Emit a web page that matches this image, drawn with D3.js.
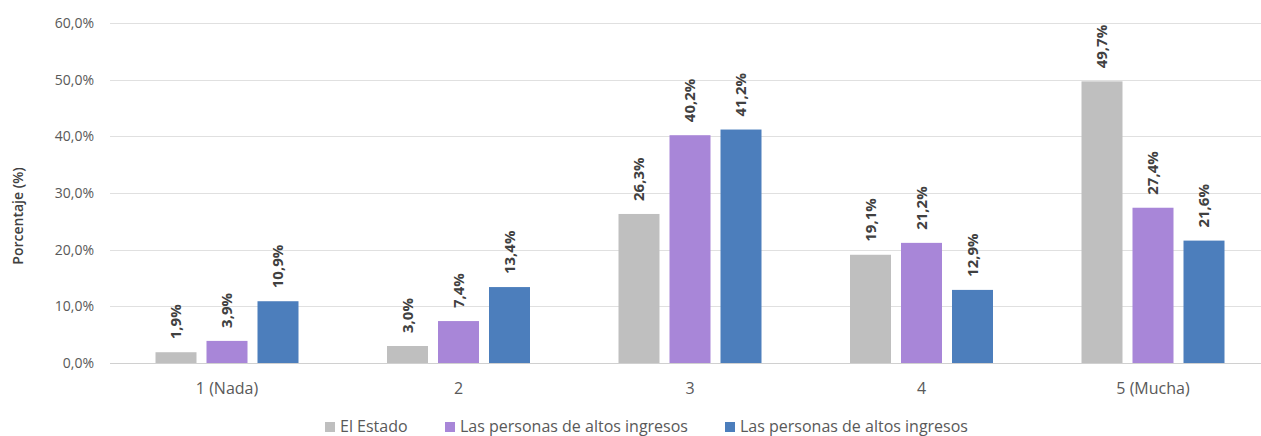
<!DOCTYPE html>
<html><head><meta charset="utf-8">
<script src="https://cdn.jsdelivr.net/npm/d3@7"></script>
<style>
html,body{margin:0;padding:0;background:#fff;}
svg{display:block;font-family:"Open Sans",sans-serif;}
</style></head>
<body>
<svg id="chart" width="1261" height="436"></svg>
<script>
const categories = ["1 (Nada)", "2", "3", "4", "5 (Mucha)"];
const seriesNames = ["El Estado", "Las personas de altos ingresos", "Las personas de altos ingresos "];
const estado = [1.9, 3.0, 26.3, 19.1, 49.7];
const altosA = [3.9, 7.4, 40.2, 21.2, 27.4];
const altosB = [10.9, 13.4, 41.2, 12.9, 21.6];
const yTicks = [0, 10, 20, 30, 40, 50, 60];
const colors = ["#BFBFBF", "#A886D8", "#4C7EBC"];

const seriesValues = [estado, altosA, altosB];
const svg = d3.select("#chart");
const fmt = v => v.toFixed(1).replace(".", ",") + "%";

const x = d3.scaleBand().domain(categories).range([111.25, 1268.75]).padding(0);
const xi = d3.scaleBand().domain(d3.range(3)).range([0, 143]).paddingInner(10/51).paddingOuter(0);
const y = d3.scaleLinear().domain([0, 60]).range([363, 23]);

// gridlines
svg.append("g").selectAll("line").data(yTicks).join("line")
  .attr("x1", 110).attr("x2", 1261)
  .attr("y1", d => Math.round(y(d)) + 0.5).attr("y2", d => Math.round(y(d)) + 0.5)
  .attr("stroke", d => d === 0 ? "#D0D0D0" : "#E0E0E0").attr("stroke-width", 1);

// y axis labels
const yAxis = d3.axisLeft(y).tickValues(yTicks).tickFormat(d => d.toFixed(1).replace(".", ",") + "%").tickSize(0).tickPadding(0);
const ya = svg.append("g").attr("transform", "translate(94,0)").call(yAxis);
ya.select(".domain").remove();
ya.selectAll("text").attr("fill", "#595959").style("font-size", "14px").style("font-family", "Open Sans");

// x axis labels
const xAxis = d3.axisBottom(x).tickSize(0).tickPadding(0);
const xa = svg.append("g").attr("transform", "translate(0,383)").call(xAxis);
xa.select(".domain").remove();
xa.selectAll("text").attr("fill", "#595959").style("font-size", "16px").style("font-family", "Open Sans");

// bars
const groups = svg.append("g").selectAll("g").data(categories).join("g")
  .attr("transform", d => `translate(${x(d) + x.bandwidth()/2 - 71.5},0)`);

groups.each(function(cat, ci) {
  const g = d3.select(this);
  seriesValues.forEach((vals, si) => {
    const v = vals[ci];
    g.append("rect")
      .attr("x", xi(si)).attr("width", xi.bandwidth())
      .attr("y", y(v)).attr("height", y(0) - y(v))
      .attr("fill", colors[si]);
    const cx = xi(si) + xi.bandwidth()/2;
    g.append("text")
      .attr("transform", `translate(${cx},${y(v) - 13}) rotate(-90)`)
      .attr("dy", "0.36em")
      .attr("text-anchor", "start")
      .attr("fill", "#404040")
      .style("font-size", "15px").style("font-weight", "bold")
      .text(fmt(v));
  });
});

// y axis title
svg.append("text")
  .attr("transform", "translate(23,216) rotate(-90)")
  .attr("text-anchor", "middle")
  .attr("fill", "#404040")
  .style("font-size", "14px").style("font-weight", "600")
  .text("Porcentaje (%)");

// legend
const legendX = [325, 445, 725];
const lg = svg.append("g").selectAll("g").data(seriesNames).join("g")
  .attr("transform", (d, i) => `translate(${legendX[i]},432)`);
lg.append("rect").attr("x", 0).attr("y", -10).attr("width", 10).attr("height", 10)
  .attr("fill", (d, i) => colors[i]);
lg.append("text").attr("x", 15)
  .attr("fill", "#595959").style("font-size", "16px")
  .text(d => d.trim());
</script>
</body></html>
